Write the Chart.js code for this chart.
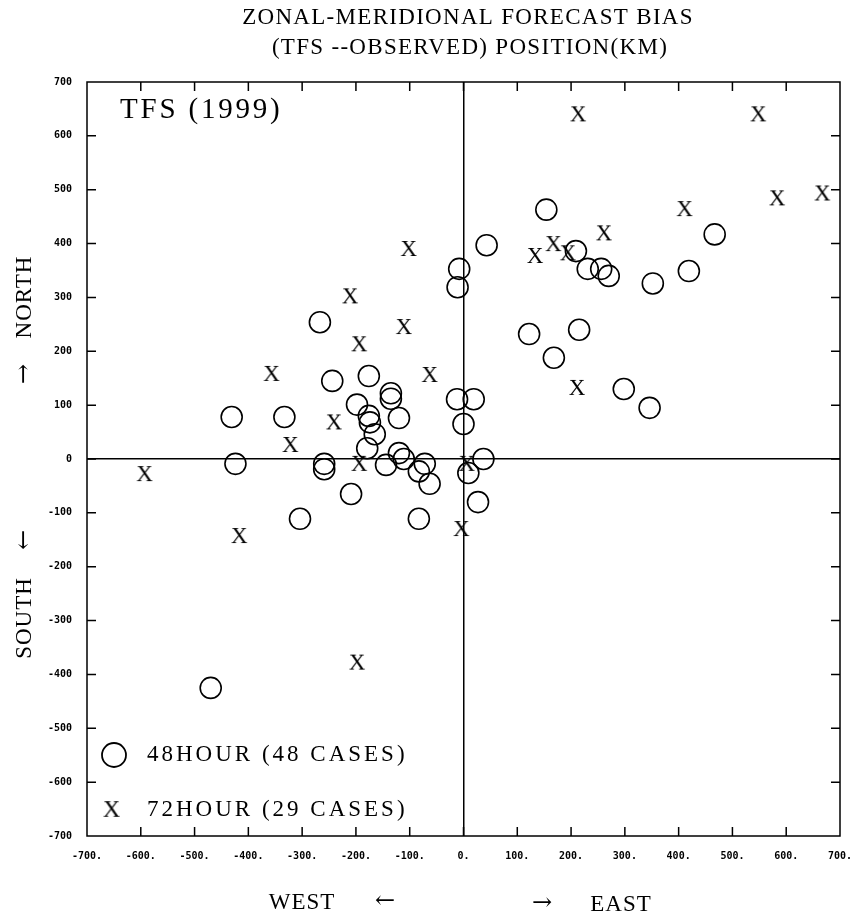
<!DOCTYPE html>
<html>
<head>
<meta charset="utf-8">
<script src="https://cdn.jsdelivr.net/npm/chart.js@4/dist/chart.umd.min.js"></script>
<style>
html,body{margin:0;padding:0;background:#fff;overflow:hidden;}
#wrap{width:855px;height:919px;position:relative;}
#c{display:block;}
</style>
</head>
<body>
<div id="wrap"><canvas id="c"></canvas></div>
<script>
// ---- data (km) ----
const titleLines = ['ZONAL-MERIDIONAL FORECAST BIAS', '(TFS --OBSERVED) POSITION(KM)'];
const seriesLabels = ['48HOUR (48 CASES)', '72HOUR (29 CASES)'];
const axisMin = -700, axisMax = 700, axisStep = 100;

const h48X = [-470,-431,-424,-333,-304,-267,-259,-259,-244,-209,-198,-176,-176,-174,-165,-179,-135,-135,-120,-144,-120,-111,-72,-83,-63,-83,-12,19,0,9,37,27,-8,-11,43,154,209,231,256,270,352,419,467,122,215,168,298,346];
const h48Y = [-425,78,-9,78,-111,254,-9,-19,145,-65,101,154,80,68,46,20,122,112,76,-11,11,0,-9,-23,-46,-111,111,111,65,-26,0,-80,353,319,397,463,386,353,353,340,326,349,417,232,240,188,130,95];

const h72X = [-593,-417,-357,-322,-241,-194,-198,-194,-211,-111,-102,-63,6,-4,213,548,583,667,411,261,133,167,194,211];
const h72Y = [-28,-143,158,26,68,-9,-378,213,302,245,390,156,-9,-130,640,640,484,493,464,419,377,399,382,132];

// ---- marker: serif letter X ----
function makeXMarker(size){
  const cv = document.createElement('canvas');
  cv.width = size; cv.height = size;
  const g = cv.getContext('2d');
  g.fillStyle = '#000';
  g.font = Math.round(size*1.05) + 'px "Liberation Serif", "DejaVu Serif", serif';
  g.textAlign = 'center';
  g.textBaseline = 'middle';
  g.fillText('X', size/2, size/2 + 1);
  return cv;
}
const xMarker = makeXMarker(22);

const pts = (xs, ys) => xs.map((v,i)=>({x:v, y:ys[i]}));

function drawText(ctx, s, x, y, font, ls, align){
  ctx.font = font;
  try { ctx.letterSpacing = ls || '0px'; } catch(e) {}
  ctx.textAlign = align || 'center';
  ctx.textBaseline = 'middle';
  ctx.fillText(s, x, y);
  try { ctx.letterSpacing = '0px'; } catch(e) {}
}
const SERIF = '"Liberation Serif", "DejaVu Serif", serif';

const framePlugin = {
  id: 'frame',
  beforeDatasetsDraw(chart){
    const {ctx, chartArea:a, scales:{x, y}} = chart;
    ctx.save();
    ctx.strokeStyle = '#000';
    ctx.lineWidth = 1.5;
    ctx.strokeRect(a.left, a.top, a.right - a.left, a.bottom - a.top);
    const tl = 9;
    ctx.beginPath();
    x.ticks.forEach(t => {
      if (t.value <= axisMin || t.value >= axisMax) return;
      const px = x.getPixelForValue(t.value);
      ctx.moveTo(px, a.bottom); ctx.lineTo(px, a.bottom - tl);
      ctx.moveTo(px, a.top); ctx.lineTo(px, a.top + tl);
    });
    y.ticks.forEach(t => {
      if (t.value <= axisMin || t.value >= axisMax) return;
      const py = y.getPixelForValue(t.value);
      ctx.moveTo(a.left, py); ctx.lineTo(a.left + tl, py);
      ctx.moveTo(a.right, py); ctx.lineTo(a.right - tl, py);
    });
    ctx.stroke();
    ctx.restore();
  },
  afterDraw(chart){
    const {ctx} = chart;
    ctx.save();
    ctx.fillStyle = '#000';
    // title
    drawText(ctx, titleLines[0], 468, 18, '23px ' + SERIF, '1.3px');
    drawText(ctx, titleLines[1], 470, 48, '23px ' + SERIF, '1.3px');
    // inner label
    drawText(ctx, 'TFS (1999)', 120, 110, '29px ' + SERIF, '2.8px', 'left');
    // bottom axis words
    const af = '23px ' + SERIF;
    drawText(ctx, 'WEST', 302, 903, af, '1px');
    drawText(ctx, '\u2190', 385, 902, '24px "DejaVu Serif", serif', '0px');
    drawText(ctx, '\u2192', 542, 904, '24px "DejaVu Serif", serif', '0px');
    drawText(ctx, 'EAST', 621, 905, af, '1px');
    // left axis words (rotated)
    const rot = (s, cx, cy, f, ls) => {
      ctx.save(); ctx.translate(cx, cy); ctx.rotate(-Math.PI/2);
      drawText(ctx, s, 0, 0, f, ls); ctx.restore();
    };
    rot('NORTH', 25, 297, af, '1px');
    rot('\u2192', 25, 374, '24px "DejaVu Serif", serif', '0px');
    rot('\u2190', 25, 540, '24px "DejaVu Serif", serif', '0px');
    rot('SOUTH', 25, 618, af, '1px');
    // legend
    const ds = chart.data.datasets;
    ctx.strokeStyle = '#000';
    ctx.lineWidth = 1.8;
    ctx.beginPath(); ctx.arc(114, 755, 12, 0, Math.PI*2); ctx.stroke();
    drawText(ctx, ds[0].label, 147, 755, '23px ' + SERIF, '3px', 'left');
    ctx.drawImage(xMarker, 100, 798, 23, 23);
    drawText(ctx, ds[1].label, 147, 810, '23px ' + SERIF, '3px', 'left');
    ctx.restore();
  }
};

const tickFont = {family: '"DejaVu Sans Mono", monospace', size: 10, weight: 'bold'};
const zeroGrid = {
  color: c => (c.tick && c.tick.value === 0) ? '#000' : 'rgba(0,0,0,0)',
  lineWidth: 1.5,
  drawTicks: false
};

new Chart(document.getElementById('c'), {
  type: 'scatter',
  data: {
    datasets: [
      {
        label: seriesLabels[0],
        data: pts(h48X, h48Y),
        pointStyle: 'circle',
        pointRadius: 10.5,
        pointHoverRadius: 10.5,
        pointBorderWidth: 1.6,
        borderColor: '#000',
        backgroundColor: 'rgba(0,0,0,0)'
      },
      {
        label: seriesLabels[1],
        data: pts(h72X, h72Y),
        pointStyle: xMarker,
        pointRadius: 11,
        borderColor: '#000',
        backgroundColor: '#000'
      }
    ]
  },
  options: {
    responsive: true,
    maintainAspectRatio: false,
    animation: false,
    events: [],
    layout: {padding: {top: 82, right: 0, left: 0, bottom: 0}},
    plugins: {legend: {display: false}, title: {display: false}, tooltip: {enabled: false}},
    scales: {
      x: {
        type: 'linear', min: axisMin, max: axisMax,
        ticks: {stepSize: axisStep, callback: v => v + '.', font: tickFont, color: '#000', padding: 14, maxRotation: 0, autoSkip: false},
        grid: zeroGrid,
        border: {display: false},
        afterFit: s => { s.height = 83; s.paddingRight = 15; s.paddingLeft = 0; }
      },
      y: {
        type: 'linear', min: axisMin, max: axisMax,
        ticks: {stepSize: axisStep, callback: v => String(v), font: tickFont, color: '#000', padding: 15, autoSkip: false},
        grid: zeroGrid,
        border: {display: false},
        afterFit: s => { s.width = 87; }
      }
    }
  },
  plugins: [framePlugin]
});
</script>
</body>
</html>
